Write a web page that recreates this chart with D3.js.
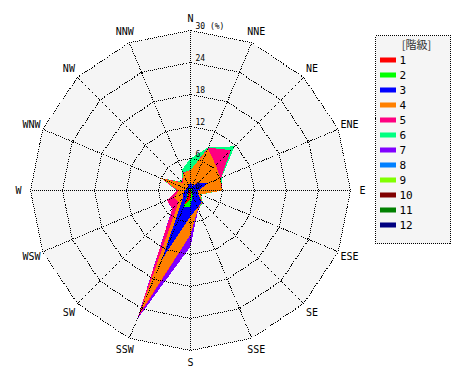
<!DOCTYPE html>
<html>
<head>
<meta charset="utf-8">
<script src="https://cdnjs.cloudflare.com/ajax/libs/d3/7.8.5/d3.min.js"></script>
<style>
body { margin: 0; background: #fff; }
text { font-family: "DejaVu Sans Mono", "Liberation Mono", monospace; fill: #000; }
</style>
</head>
<body>
<div id="chart"></div>
<script>
// Data
var directions = ["N","NNE","NE","ENE","E","ESE","SE","SSE","S","SSW","SW","WSW","W","WNW","NW","NNW"];
var classNames = ["1","2","3","4","5","6","7","8","9","10","11","12"];
var classColors = ["#ff0000","#00ff00","#0000ff","#ff8000","#ff0080","#00ff80",
                   "#8000ff","#0080ff","#80ff00","#800000","#008000","#000080"];
var tickValues = [0, 6, 12, 18, 24, 30];
var tickLabels = ["0", "6", "12", "18", "24", "30 (%)"];
var legendTitle = "[階級]";

// frequency (%) for each class, by direction N .. NNW
var class1  = [0.3,0.3,0.2,0.2,0.2,0.1,0.1,0.3,1.5, 3.0,0.5,0.4,0.3,0.2,0.2,0.2];
var class2  = [0.2,0.2,0.2,0.1,0.1,0.2,0.4,0.7,1.5, 0.3,0.2,0.2,0.1,0.1,0.1,0.2];
var class3  = [1.0,0.5,1.6,3.2,1.2,1.2,2.5,2.5,1.8,10.7,1.3,0.9,0.6,0.5,0.5,0.6];
var class4  = [2.3,7.5,4.7,2.6,4.4,0.5,0.2,0.2,3.5,11.0,1.2,1.8,1.2,5.2,1.2,2.5];
var class5  = [0.0,0.2,4.0,0.1,0.0,0.0,0.0,0.0,0.0, 1.0,1.6,1.5,0.3,0.0,0.2,0.2];
var class6  = [2.2,0.1,1.0,0.1,0.0,0.1,0.1,0.0,0.0, 0.0,0.0,0.0,0.1,0.0,0.2,0.5];
var class7  = [0.0,0.0,0.0,0.0,0.0,0.0,0.0,0.1,2.2, 0.2,0.1,0.0,0.0,0.0,0.0,0.0];
var class8  = [0,0,0,0,0,0,0,0,0,0,0,0,0,0,0,0];
var class9  = [0,0,0,0,0,0,0,0,0,0,0,0,0,0,0,0];
var class10 = [0,0,0,0,0,0,0,0,0,0,0,0,0,0,0,0];
var class11 = [0,0,0,0,0,0,0,0,0,0,0,0,0,0,0,0];
var class12 = [0,0,0,0,0,0,0,0,0,0,0,0,0,0,0,0];
var classValues = [class1,class2,class3,class4,class5,class6,class7,class8,class9,class10,class11,class12];

var width = 470, height = 380;
var cx = 190.5, cy = 190.5, outerR = 160;

var r = d3.scaleLinear().domain([0, 30]).range([0, outerR]);
var angle = d3.scalePoint().domain(directions).range([0, 2 * Math.PI * 15 / 16]);
var color = d3.scaleOrdinal().domain(classNames).range(classColors);

// one row per direction for the stack
var rows = directions.map(function(dir, i){
    var row = {dir: dir};
    classNames.forEach(function(c, k){ row[c] = classValues[k][i]; });
    return row;
});
var series = d3.stack().keys(classNames)(rows);

var svg = d3.select("#chart")
    .append("svg")
        .attr("width", width)
        .attr("height", height);

var g = svg.append("g")
    .attr("transform", "translate(" + cx + "," + cy + ")");

var ringLine = d3.lineRadial()
    .angle(function(d){ return angle(d.dir); })
    .radius(function(d){ return r(d.v); })
    .curve(d3.curveLinearClosed);

function ring(v){
    return ringLine(directions.map(function(d){ return {dir: d, v: v}; }));
}

// background
g.append("path")
    .attr("d", ring(30))
    .attr("fill", "#f5f5f5");

// stacked polygons, biggest class drawn first
var areas = g.append("g").attr("class", "areas")
    .attr("shape-rendering", "crispEdges");
series.slice().reverse().forEach(function(s){
    areas.append("path")
        .attr("d", ringLine(s.map(function(d){ return {dir: d.data.dir, v: d[1]}; })))
        .attr("fill", color(s.key))
        .attr("stroke", "none");
});

// grid
var grid = g.append("g")
    .attr("fill", "none")
    .attr("stroke", "#000")
    .attr("stroke-width", 1)
    .attr("stroke-dasharray", "1,1")
    .attr("shape-rendering", "crispEdges");

tickValues.slice(1).forEach(function(v){
    grid.append("path").attr("d", ring(v));
});

directions.forEach(function(d){
    var a = angle(d);
    grid.append("line")
        .attr("x1", 0).attr("y1", 0)
        .attr("x2", r(30) * Math.sin(a))
        .attr("y2", -r(30) * Math.cos(a));
});

// tick labels on the N spoke
g.selectAll(".tick")
    .data(tickValues)
    .enter().append("text")
    .attr("class", "tick")
    .attr("x", 5)
    .attr("y", function(d){ return -r(d) - 2; })
    .style("font-size", "8px")
    .text(function(d, i){ return tickLabels[i]; });

// direction labels
g.selectAll(".dir")
    .data(directions)
    .enter().append("text")
    .attr("class", "dir")
    .attr("x", function(d){ return 172 * Math.sin(angle(d)); })
    .attr("y", function(d){ return -172 * Math.cos(angle(d)); })
    .attr("text-anchor", "middle")
    .attr("dy", "0.35em")
    .style("font-size", "10px")
    .text(function(d){ return d; });

// legend
var legend = svg.append("g")
    .attr("transform", "translate(375.5,35.5)");

legend.append("rect")
    .attr("width", 75)
    .attr("height", 208)
    .attr("fill", "#f5f5f5")
    .attr("stroke", "#000")
    .attr("stroke-dasharray", "1,1")
    .attr("shape-rendering", "crispEdges");

legend.append("text")
    .attr("x", 41)
    .attr("y", 13)
    .attr("text-anchor", "middle")
    .style("font-family", "'Noto Sans CJK JP', sans-serif")
    .style("font-size", "11px")
    .style("fill", "#333")
    .text(legendTitle);

var item = legend.selectAll(".item")
    .data(classNames)
    .enter().append("g")
    .attr("class", "item")
    .attr("transform", function(d, i){ return "translate(0," + (25 + i * 15) + ")"; });

item.append("rect")
    .attr("x", 4.5)
    .attr("y", -3)
    .attr("width", 16)
    .attr("height", 5)
    .attr("fill", color);

item.append("text")
    .attr("x", 24)
    .attr("y", 0)
    .attr("dy", "0.35em")
    .style("font-size", "11px")
    .text(function(d){ return d; });
</script>
</body>
</html>
